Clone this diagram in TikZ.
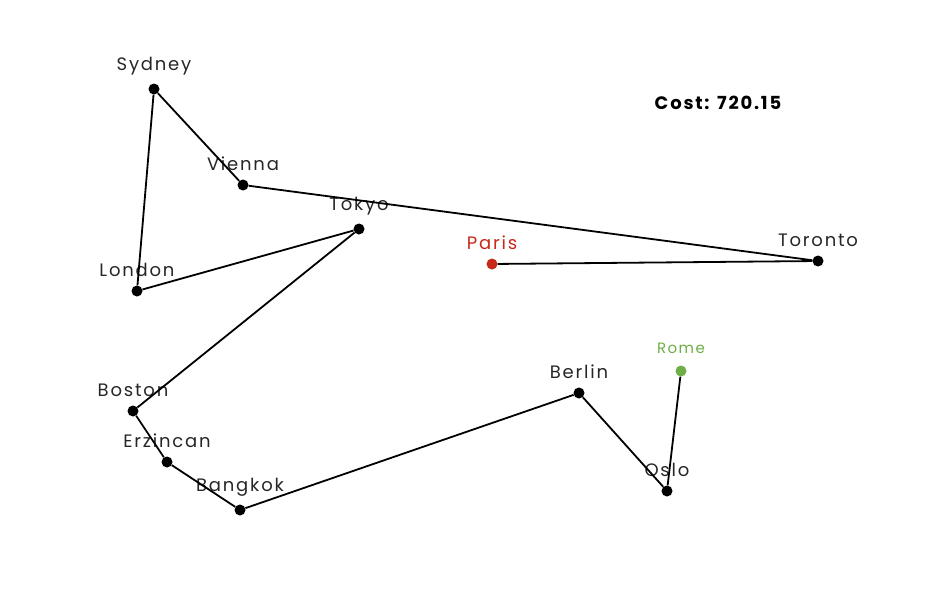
\documentclass[tikz,border=0pt]{standalone}
\usepackage{fontspec}
\setmainfont{Poppins}[LetterSpace=10]
\definecolor{parisred}{HTML}{C62A1A}
\definecolor{romegreen}{HTML}{6FAE47}
\begin{document}
\begin{tikzpicture}[x=1pt, y=-1pt,
  city/.style={circle, fill, inner sep=0pt, minimum size=11pt},
  every label/.style={font=\fontsize{18}{20}\selectfont, text=black!85, inner sep=2pt, yshift=6pt},
  tour/.style={line width=1.8pt}]
\useasboundingbox (0,0) rectangle (930,605);
\node[city, parisred, label={[text=parisred]above:Paris}] (paris) at (492,264){};
\node[city, label=above:Toronto] (toronto) at (818,261){};
\node[city, label=above:Vienna] (vienna) at (243,185){};
\node[city, label=above:Sydney] (sydney) at (154,89){};
\node[city, label=above:London] (london) at (137,291){};
\node[city, label=above:Tokyo] (tokyo) at (359,229){};
\node[city, label=above:Boston] (boston) at (133,411){};
\node[city, label=above:Erzincan] (erzincan) at (167,462){};
\node[city, label=above:Bangkok] (bangkok) at (240,510){};
\node[city, label=above:Berlin] (berlin) at (579,393){};
\node[city, label=above:Oslo] (oslo) at (667,491){};
\node[city, romegreen, label={[text=romegreen, font=\fontsize{15}{17}\selectfont, yshift=3pt]above:Rome}] (rome) at (681,371){};
\draw[tour] (paris) -- (toronto);
\draw[tour] (toronto) -- (vienna);
\draw[tour] (vienna) -- (sydney);
\draw[tour] (sydney) -- (london);
\draw[tour] (london) -- (tokyo);
\draw[tour] (tokyo) -- (boston);
\draw[tour] (boston) -- (erzincan);
\draw[tour] (erzincan) -- (bangkok);
\draw[tour] (bangkok) -- (berlin);
\draw[tour] (berlin) -- (oslo);
\draw[tour] (oslo) -- (rome);
\node[font=\fontsize{18}{20}\selectfont\bfseries] (cost) at (718,103){Cost: 720.15};
\end{tikzpicture}
\end{document}
